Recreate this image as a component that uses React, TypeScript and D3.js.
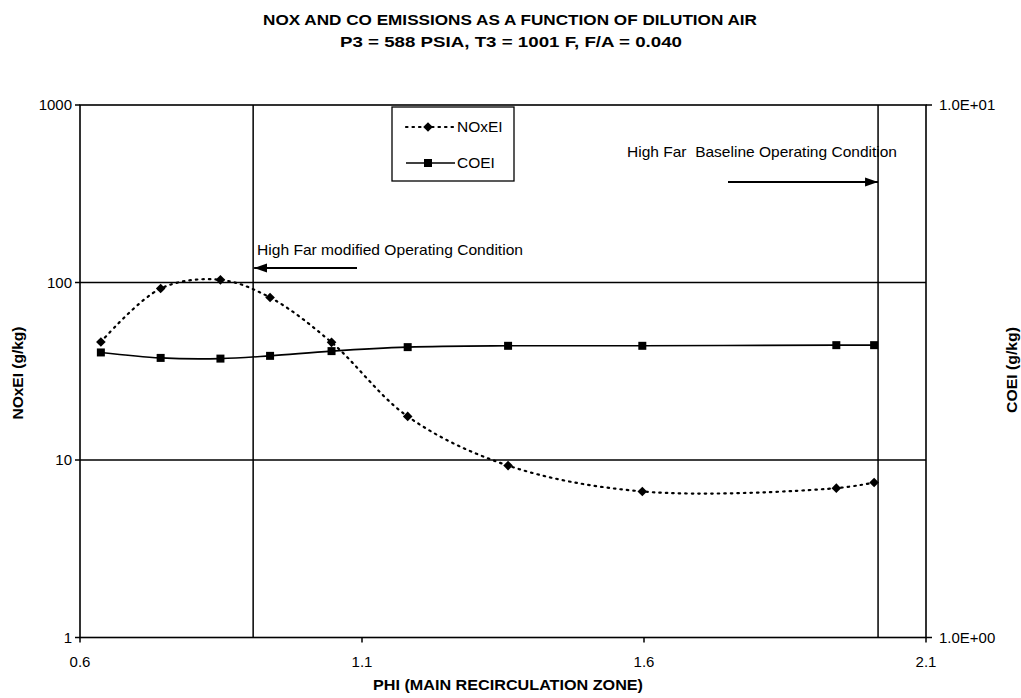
import React from "react";
import * as d3 from "d3";

// ---- data ----
const phi = [0.637, 0.743, 0.849, 0.937, 1.046, 1.181, 1.359, 1.597, 1.941, 2.008];
const noxEI = [46.2, 92.5, 103.5, 82.3, 46.0, 17.6, 9.3, 6.65, 6.94, 7.47];
const coEI = [3.43, 3.35, 3.34, 3.38, 3.45, 3.51, 3.53, 3.53, 3.54, 3.54];

const xTicks = [0.6, 1.1, 1.6, 2.1];
const leftTicks = [1, 10, 100, 1000];
const rightTicks = [1, 10];
const rightTickLabels = ["1.0E+00", "1.0E+01"];
const annotationPhi = [0.907, 2.015];

const titleLines = [
  "NOX AND CO EMISSIONS AS A FUNCTION OF DILUTION AIR",
  "P3 = 588 PSIA, T3 = 1001 F, F/A = 0.040",
];

const FONT = "'Liberation Sans', Arial, Helvetica, sans-serif";

export default function App() {
  const W = 1021;
  const H = 698;
  const left = 80, right = 926, top = 105, bottom = 637.5;

  const x = d3.scaleLinear().domain([0.6, 2.1]).range([left, right]);
  const yL = d3.scaleLog().domain([1, 1000]).range([bottom, top]);
  const yR = d3.scaleLog().domain([1, 10]).range([bottom, top]);

  const noxPts: [number, number][] = phi.map((p, i) => [x(p), yL(noxEI[i])]);
  const coPts: [number, number][] = phi.map((p, i) => [x(p), yR(coEI[i])]);

  const lineGen = d3.line<[number, number]>().curve(d3.curveCatmullRom.alpha(0.5));

  const diamond = (s: number) => `M0,${-s}L${s},0L0,${s}L${-s},0Z`;
  const square = d3.symbol(d3.symbolSquare, 64)() as string;

  const legX = 392, legY = 107, legW = 122, legH = 74;

  return (
    <svg
      width={W}
      height={H}
      viewBox={`0 0 ${W} ${H}`}
      style={{ position: "absolute", left: 0, top: 0, background: "#fff" }}
      fontFamily={FONT}
    >
      <defs>
        <marker id="arrowHead" viewBox="0 0 10 10" refX="10" refY="5" markerWidth="6.5" markerHeight="6.5" orient="auto-start-reverse" markerUnits="strokeWidth">
          <path d="M0,1.5 L10,5 L0,8.5 Z" fill="#000" />
        </marker>
      </defs>
      <rect x={0} y={0} width={W} height={H} fill="#fff" />

      {/* title */}
      <text x={510} y={25} textAnchor="middle" fontSize={15} fontWeight="bold" textLength={494} lengthAdjust="spacingAndGlyphs">
        {titleLines[0]}
      </text>
      <text x={511} y={47} textAnchor="middle" fontSize={15} fontWeight="bold" textLength={342} lengthAdjust="spacingAndGlyphs">
        {titleLines[1]}
      </text>

      {/* horizontal gridlines */}
      {leftTicks.filter((t) => t > 1 && t < 1000).map((t) => (
        <line key={"g" + t} x1={left} x2={right} y1={yL(t)} y2={yL(t)} stroke="#000" strokeWidth={1.3} />
      ))}

      {/* annotation vertical lines */}
      {annotationPhi.map((p) => (
        <line key={"a" + p} x1={x(p)} x2={x(p)} y1={top} y2={bottom} stroke="#000" strokeWidth={1.5} />
      ))}

      {/* plot frame */}
      <rect x={left} y={top} width={right - left} height={bottom - top} fill="none" stroke="#000" strokeWidth={1.6} />

      {/* left axis ticks */}
      {leftTicks.map((t) => (
        <g key={"l" + t}>
          <line x1={left - 5} x2={left} y1={yL(t)} y2={yL(t)} stroke="#000" strokeWidth={1.5} />
          <text x={72} y={yL(t) + 5} textAnchor="end" fontSize={15}>{d3.format("d")(t)}</text>
        </g>
      ))}

      {/* right axis ticks */}
      {rightTicks.map((t, i) => (
        <g key={"r" + t}>
          <line x1={right} x2={right + 6} y1={yR(t)} y2={yR(t)} stroke="#000" strokeWidth={1.5} />
          <text x={939} y={yR(t) + 5} textAnchor="start" fontSize={15}>{rightTickLabels[i]}</text>
        </g>
      ))}

      {/* x axis ticks */}
      {xTicks.map((t) => (
        <g key={"x" + t}>
          <line x1={x(t)} x2={x(t)} y1={bottom} y2={bottom + 5} stroke="#000" strokeWidth={1.5} />
          <text x={x(t)} y={667} textAnchor="middle" fontSize={15}>{d3.format(".1f")(t)}</text>
        </g>
      ))}

      {/* axis titles */}
      <text x={508} y={690} textAnchor="middle" fontSize={14} fontWeight="bold" textLength={270} lengthAdjust="spacingAndGlyphs">
        PHI (MAIN RECIRCULATION ZONE)
      </text>
      <text transform="translate(23,373) rotate(-90)" textAnchor="middle" fontSize={14} fontWeight="bold" textLength={93} lengthAdjust="spacingAndGlyphs">
        NOxEI (g/kg)
      </text>
      <text transform="translate(1017,370) rotate(-90)" textAnchor="middle" fontSize={14} fontWeight="bold" textLength={86} lengthAdjust="spacingAndGlyphs">
        COEI (g/kg)
      </text>

      {/* series: CO */}
      <path d={lineGen(coPts) as string} fill="none" stroke="#000" strokeWidth={1.6} />
      {coPts.map(([px, py], i) => (
        <path key={"cm" + i} d={square} transform={`translate(${px},${py})`} fill="#000" />
      ))}

      {/* series: NOx */}
      <path d={lineGen(noxPts) as string} fill="none" stroke="#000" strokeWidth={2.2} strokeDasharray="1.5,5" strokeLinecap="round" />
      {noxPts.map(([px, py], i) => (
        <path key={"nm" + i} d={diamond(4.8)} transform={`translate(${px},${py})`} fill="#000" />
      ))}

      {/* annotations */}
      <text x={257} y={255} fontSize={15} textLength={266} lengthAdjust="spacingAndGlyphs">High Far modified Operating Condition</text>
      <line x1={357} x2={x(annotationPhi[0]) + 1} y1={268} y2={268} stroke="#000" strokeWidth={2} markerEnd="url(#arrowHead)" />
      <text x={627} y={157} fontSize={15} style={{ whiteSpace: "pre" }} textLength={270} lengthAdjust="spacingAndGlyphs">High Far  Baseline Operating Condition</text>
      <line x1={728} x2={x(annotationPhi[1])} y1={182} y2={182} stroke="#000" strokeWidth={2} markerEnd="url(#arrowHead)" />

      {/* legend */}
      <rect x={legX} y={legY} width={legW} height={legH} fill="#fff" stroke="#000" strokeWidth={1.3} />
      <line x1={406} x2={455} y1={127} y2={127} stroke="#000" strokeWidth={2.2} strokeDasharray="1.5,5" strokeLinecap="round" />
      <path d={diamond(4.8)} transform="translate(428,127)" fill="#000" />
      <text x={457} y={132} fontSize={15.5}>NOxEI</text>
      <line x1={406} x2={455} y1={163} y2={163} stroke="#000" strokeWidth={1.6} />
      <path d={square} transform="translate(428,163)" fill="#000" />
      <text x={457} y={168} fontSize={15.5}>COEI</text>
    </svg>
  );
}
